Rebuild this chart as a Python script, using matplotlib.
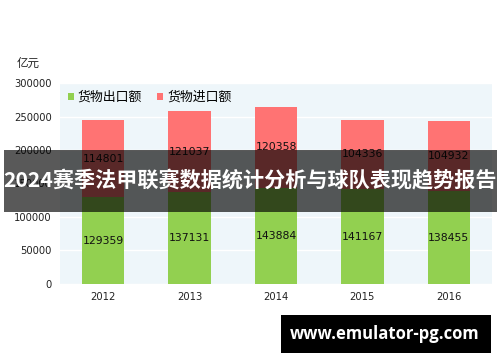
import matplotlib
matplotlib.use("Agg")
import matplotlib.pyplot as plt
from matplotlib.patches import Rectangle

plt.rcParams['font.family'] = ['Noto Sans CJK SC', 'DejaVu Sans']

years = ["2012", "2013", "2014", "2015", "2016"]
exports = [129359, 137131, 143884, 141167, 138455]
imports = [114801, 121037, 120358, 104336, 104932]
series_names = ["货物出口额", "货物进口额"]
unit_label = "亿元"
yticks = [0, 50000, 100000, 150000, 200000, 250000, 300000]
banner_title = "2024赛季法甲联赛数据统计分析与球队表现趋势报告"
watermark = "www.emulator-pg.com"

green = "#92d050"
red = "#ff7373"

fig = plt.figure(figsize=(5, 3.62), dpi=100)
ax = fig.add_axes([0.12, 0.2155, 0.864, 0.5552])
ax.set_facecolor("#eef6fa")
x = list(range(len(years)))
w = 0.49
b1 = ax.bar(x, exports, width=w, color=green, label=series_names[0], zorder=3)
b2 = ax.bar(x, imports, width=w, bottom=exports, color=red, label=series_names[1], zorder=3)
for i in x:
    ax.text(i, exports[i] / 2, str(exports[i]), ha="center", va="center",
            fontsize=7.8, family="DejaVu Sans", color="#111111", zorder=4)
    ax.text(i, exports[i] + imports[i] / 2, str(imports[i]), ha="center", va="center",
            fontsize=7.8, family="DejaVu Sans", color="#111111", zorder=4)

ax.set_xlim(-0.5, len(years) - 0.5)
ax.set_ylim(0, 300000)
ax.set_yticks(yticks)
ax.set_yticklabels([str(v) for v in yticks], fontsize=7.2, family="DejaVu Sans", color="#222222")
ax.set_xticks(x)
ax.set_xticklabels(years, fontsize=7.2, family="DejaVu Sans", color="#222222")
ax.tick_params(length=0, pad=6)
ax.yaxis.grid(True, color="white", linewidth=1.0, zorder=0)
ax.set_axisbelow(True)
for s in ax.spines.values():
    s.set_visible(False)

leg = ax.legend(loc="upper left", bbox_to_anchor=(0.0, 1.0), ncol=2, frameon=False,
                fontsize=9.3, handlelength=0.45, handleheight=0.45, handletextpad=0.3,
                columnspacing=1.2, borderaxespad=0.2)

fig.text(17 / 500, 1 - 63 / 362, unit_label, fontsize=8.3, ha="left", va="center", color="#222222")

fig.patches.append(Rectangle((0.008, 0.4144), 0.986, 0.1713, transform=fig.transFigure,
                             facecolor="black", alpha=0.65, edgecolor="none", zorder=10))
fig.text(0.501, 0.5, banner_title, fontsize=15.2, fontweight="bold", color="white",
         ha="center", va="center", zorder=11)

fig.patches.append(Rectangle((0.562, 0.0249), 0.42, 0.105, transform=fig.transFigure,
                             facecolor="black", edgecolor="none", zorder=10))
fig.text(0.77, 0.0773, watermark, fontsize=12, fontweight="bold", color="white",
         family="Open Sans", ha="center", va="center", zorder=11)

fig.savefig("out.png", dpi=100)
